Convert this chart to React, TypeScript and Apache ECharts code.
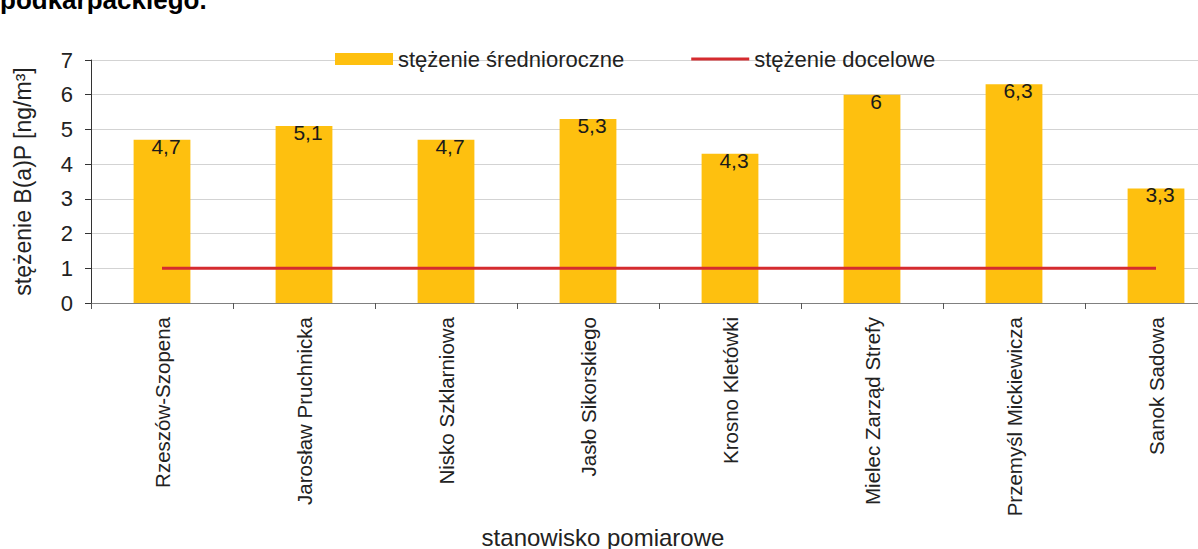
import React, { useEffect, useRef } from "react";
import * as echarts from "echarts";

const categories = [
  "Rzeszów-Szopena",
  "Jarosław Pruchnicka",
  "Nisko Szklarniowa",
  "Jasło Sikorskiego",
  "Krosno Kletówki",
  "Mielec Zarząd Strefy",
  "Przemyśl Mickiewicza",
  "Sanok Sadowa",
];
const meanValues = [4.7, 5.1, 4.7, 5.3, 4.3, 6, 6.3, 3.3];
const targetValues = [1, 1, 1, 1, 1, 1, 1, 1];
const yTicks = [0, 1, 2, 3, 4, 5, 6, 7];

const FONT = "'Liberation Sans', Arial, sans-serif";

export default function App() {
  const ref = useRef<HTMLDivElement>(null);
  useEffect(() => {
    if (!ref.current) return;
    const chart = echarts.init(ref.current, undefined, { renderer: "svg" });
    chart.setOption({
      animation: false,
      backgroundColor: "#ffffff",
      textStyle: { fontFamily: FONT },
      graphic: [
        {
          type: "text",
          left: 0,
          top: -13,
          style: {
            text: "podkarpackiego.",
            font: `bold 26px ${FONT}`,
            fill: "#000",
          },
        },
        {
          type: "text",
          x: 603,
          y: 537,
          style: {
            text: "stanowisko pomiarowe",
            font: `24px ${FONT}`,
            fill: "#222",
            align: "center",
            verticalAlign: "middle",
          },
        },
      ],
      legend: {
        left: 330,
        top: 43,
        itemWidth: 58,
        itemHeight: 12,
        itemGap: 67,
        textStyle: { fontSize: 22, color: "#222", fontFamily: FONT, padding: [0, 0, 0, 0] },
        data: [
          { name: "stężenie średnioroczne", icon: "rect", itemStyle: { color: "#FEC00F" } },
          {
            name: "stężenie docelowe",
            icon: "path://M0,0H60V3H0Z",
            itemStyle: { color: "#D52B2F" },
          },
        ],
      },
      grid: { left: 91, top: 60, bottom: 246, right: 0, containLabel: false },
      xAxis: {
        type: "category",
        data: categories,
        boundaryGap: true,
        axisLine: { lineStyle: { color: "#808080", width: 1 } },
        axisTick: { show: true, length: 6, lineStyle: { color: "#555" } },
        axisLabel: {
          rotate: 90,
          interval: 0,
          fontSize: 20.5,
          color: "#222",
          margin: 14,
          fontFamily: FONT,
        },
      },
      yAxis: {
        type: "value",
        min: yTicks[0],
        max: yTicks[yTicks.length - 1],
        interval: 1,
        name: "stężenie B(a)P [ng/m³]",
        nameLocation: "middle",
        nameGap: 57,
        nameTextStyle: { fontSize: 23, color: "#222", fontFamily: FONT },
        axisLine: { show: true, lineStyle: { color: "#333", width: 1 } },
        axisTick: { show: true, length: 6, inside: false, lineStyle: { color: "#333" } },
        axisLabel: { fontSize: 22, color: "#222", margin: 18, fontFamily: FONT },
        splitLine: { show: true, lineStyle: { color: "#d3d3d3", width: 1 } },
      },
      series: [
        {
          name: "stężenie średnioroczne",
          type: "bar",
          data: meanValues,
          barWidth: "40%",
          itemStyle: { color: "#FEC00F" },
          label: {
            show: true,
            position: "insideTop",
            distance: 0,
            offset: [4, -4],
            fontSize: 21,
            color: "#1a1a1a",
            fontFamily: FONT,
            formatter: (p: any) => String(p.value).replace(".", ","),
          },
          z: 2,
        },
        {
          name: "stężenie docelowe",
          type: "line",
          data: targetValues,
          symbol: "none",
          lineStyle: { color: "#D52B2F", width: 3 },
          itemStyle: { color: "#D52B2F" },
          z: 3,
        },
      ],
    });
    return () => chart.dispose();
  }, []);
  return (
    <div
      style={{
        position: "fixed",
        left: 0,
        top: 0,
        width: 1198,
        height: 549,
        overflow: "hidden",
        background: "#fff",
      }}
    >
      <div ref={ref} style={{ width: 1227, height: 549 }} />
    </div>
  );
}
